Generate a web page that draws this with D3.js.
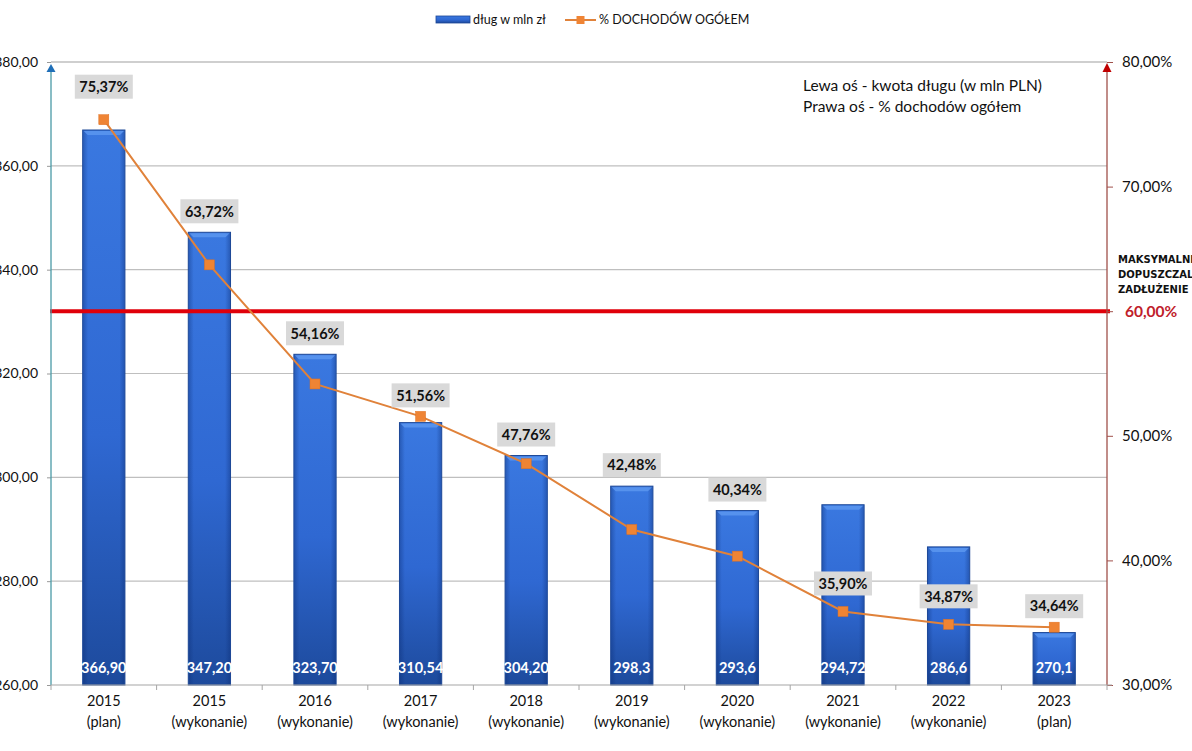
<!DOCTYPE html>
<html>
<head>
<meta charset="utf-8">
<script src="https://cdn.jsdelivr.net/npm/d3@7"></script>
<style>
  html, body { margin: 0; padding: 0; background: #fff; }
  svg { display: block; font-family: Lato, "Open Sans", sans-serif; }
</style>
</head>
<body>
<svg id="chart" width="1192" height="751"></svg>
<script>
// ---- data ----
const categories = [
  ["2015", "(plan)"],
  ["2015", "(wykonanie)"],
  ["2016", "(wykonanie)"],
  ["2017", "(wykonanie)"],
  ["2018", "(wykonanie)"],
  ["2019", "(wykonanie)"],
  ["2020", "(wykonanie)"],
  ["2021", "(wykonanie)"],
  ["2022", "(wykonanie)"],
  ["2023", "(plan)"]
];
const debtValues = [366.90, 347.20, 323.70, 310.54, 304.20, 298.3, 293.6, 294.72, 286.6, 270.1];
const debtLabels = ["366,90", "347,20", "323,70", "310,54", "304,20", "298,3", "293,6", "294,72", "286,6", "270,1"];
const pctValues = [75.37, 63.72, 54.16, 51.56, 47.76, 42.48, 40.34, 35.90, 34.87, 34.64];
const leftTicks = [260, 280, 300, 320, 340, 360, 380];
const rightTicks = [30, 40, 50, 60, 70, 80];
const limitValue = 60;
const legendNames = ["dług w mln zł", "% DOCHODÓW OGÓŁEM"];
const noteLines = ["Lewa oś - kwota długu (w mln PLN)", "Prawa oś - % dochodów ogółem"];
const limitLines = ["MAKSYMALNE", "DOPUSZCZALNE", "ZADŁUŻENIE"];

// ---- layout ----
const svg = d3.select("#chart");
const L = 51, R = 1107, T = 62, B = 685;
const fmt2 = v => d3.format(".2f")(v).replace(".", ",");

const x = d3.scaleBand().domain(d3.range(categories.length)).range([L, R])
  .paddingInner(0.6).paddingOuter(0.3);
const yL = d3.scaleLinear().domain([260, 380]).range([B, T]);
const yR = d3.scaleLinear().domain([30, 80]).range([B, T]);

const defs = svg.append("defs");
const g1 = defs.append("linearGradient").attr("id", "barV").attr("x1", 0).attr("y1", 0).attr("x2", 0).attr("y2", 1);
g1.append("stop").attr("offset", "0%").attr("stop-color", "#3a78e0");
g1.append("stop").attr("offset", "55%").attr("stop-color", "#2f68d2");
g1.append("stop").attr("offset", "100%").attr("stop-color", "#1d4a9c");
const g2 = defs.append("linearGradient").attr("id", "barH").attr("x1", 0).attr("y1", 0).attr("x2", 1).attr("y2", 0);
g2.append("stop").attr("offset", "0%").attr("stop-color", "#0a2a70").attr("stop-opacity", 0.35);
g2.append("stop").attr("offset", "12%").attr("stop-color", "#0a2a70").attr("stop-opacity", 0);
g2.append("stop").attr("offset", "88%").attr("stop-color", "#0a2a70").attr("stop-opacity", 0);
g2.append("stop").attr("offset", "100%").attr("stop-color", "#0a2a70").attr("stop-opacity", 0.35);

// gridlines
svg.append("g").selectAll("line").data(leftTicks.filter(t => t > 260)).join("line")
  .attr("x1", L).attr("x2", R).attr("y1", d => yL(d)).attr("y2", d => yL(d))
  .attr("stroke", "#bfbfbf").attr("stroke-width", 1.2);

// bars
const bars = svg.append("g");
bars.selectAll("rect.b").data(debtValues).join("rect").attr("class", "b")
  .attr("x", (d, i) => x(i)).attr("width", x.bandwidth())
  .attr("y", d => yL(d)).attr("height", d => B - yL(d))
  .attr("fill", "url(#barV)").attr("stroke", "#1c4796").attr("stroke-width", 1);
bars.selectAll("rect.s").data(debtValues).join("rect").attr("class", "s")
  .attr("x", (d, i) => x(i) + 0.5).attr("width", x.bandwidth() - 1)
  .attr("y", d => yL(d) + 0.5).attr("height", d => B - yL(d) - 1)
  .attr("fill", "url(#barH)");
bars.selectAll("path.bev").data(debtValues).join("path").attr("class", "bev")
  .attr("d", (d, i) => {
    const x0 = x(i), x1 = x(i) + x.bandwidth(), y0 = yL(d);
    return `M${x0 + 1},${y0 + 1}L${x1 - 1},${y0 + 1}L${x1 - 5},${y0 + 5}L${x0 + 5},${y0 + 5}Z`;
  })
  .attr("fill", "#5a95ee").attr("opacity", 0.9);
bars.selectAll("text").data(debtLabels).join("text")
  .attr("x", (d, i) => x(i) + x.bandwidth() / 2).attr("y", B - 12)
  .attr("text-anchor", "middle").attr("fill", "#fff").attr("font-weight", 700)
  .attr("font-size", 14.5).text(d => d);

// limit line
svg.append("line").attr("x1", L - 1).attr("x2", R + 3)
  .attr("y1", yR(limitValue)).attr("y2", yR(limitValue))
  .attr("stroke", "#e0000a").attr("stroke-width", 4);

// axes
const leftAxis = svg.append("g").attr("transform", `translate(${L},0)`)
  .call(d3.axisLeft(yL).tickValues(leftTicks).tickFormat(fmt2).tickSize(4).tickPadding(9));
leftAxis.select(".domain").remove();
leftAxis.selectAll(".tick line").attr("stroke", "#999");
leftAxis.selectAll("text").attr("font-size", 14).attr("fill", "#111").attr("font-family", "Lato, sans-serif");
svg.append("line").attr("x1", L).attr("x2", L).attr("y1", B).attr("y2", T + 6)
  .attr("stroke", "#4a9aa6").attr("stroke-width", 1.3);
svg.append("path").attr("d", `M${L},${T + 2}L${L - 4.5},${T + 10}L${L + 4.5},${T + 10}Z`).attr("fill", "#1f6fb8");

const rightAxis = svg.append("g").attr("transform", `translate(${R},0)`)
  .call(d3.axisRight(yR).tickValues(rightTicks).tickFormat(v => fmt2(v) + "%").tickSize(6).tickPadding(9));
rightAxis.select(".domain").remove();
rightAxis.selectAll(".tick line").attr("stroke", "#a0504a");
rightAxis.selectAll("text").attr("font-size", 15).attr("fill", "#111").attr("font-family", "Lato, sans-serif");
rightAxis.selectAll(".tick").filter(d => d === limitValue).select("text").remove();
svg.append("line").attr("x1", R).attr("x2", R).attr("y1", B).attr("y2", T + 6)
  .attr("stroke", "#a0504a").attr("stroke-width", 1.3);
svg.append("path").attr("d", `M${R},${T + 1}L${R - 4.5},${T + 10}L${R + 4.5},${T + 10}Z`).attr("fill", "#c00000");

// top gridline
svg.append("line").attr("x1", L).attr("x2", R).attr("y1", T).attr("y2", T)
  .attr("stroke", "#bfbfbf").attr("stroke-width", 1.2);

// bottom axis
svg.append("line").attr("x1", L).attr("x2", R + 5).attr("y1", B).attr("y2", B)
  .attr("stroke", "#a6a6a6").attr("stroke-width", 1.2);
svg.append("g").selectAll("line").data(d3.range(categories.length + 1)).join("line")
  .attr("x1", i => L + i * x.step()).attr("x2", i => L + i * x.step())
  .attr("y1", B).attr("y2", B + 5).attr("stroke", "#a6a6a6");
const catG = svg.append("g").selectAll("text").data(categories).join("text")
  .attr("text-anchor", "middle").attr("font-size", 14.5).attr("fill", "#111");
catG.append("tspan").attr("x", (d, i) => x(i) + x.bandwidth() / 2).attr("y", 706).text(d => d[0]);
catG.append("tspan").attr("x", (d, i) => x(i) + x.bandwidth() / 2).attr("y", 727).text(d => d[1]);

// percentage line
const cx = i => x(i) + x.bandwidth() / 2;
svg.append("path").datum(pctValues)
  .attr("d", d3.line().x((d, i) => cx(i)).y(d => yR(d)))
  .attr("fill", "none").attr("stroke", "#e0823a").attr("stroke-width", 2);
svg.append("g").selectAll("rect").data(pctValues).join("rect")
  .attr("x", (d, i) => cx(i) - 5).attr("y", d => yR(d) - 5)
  .attr("width", 10).attr("height", 10).attr("fill", "#ef8434").attr("stroke", "#e07020").attr("stroke-width", 0.5);

// percentage labels
const labelY = (d, i) => {
  const my = yR(d), by = yL(debtValues[i]);
  if (my - by > 60) return my - 28;
  if (by - my > 8) return my - 33;
  return Math.min(my, by) - 21;
};
const pl = svg.append("g").selectAll("g").data(pctValues).join("g")
  .attr("transform", (d, i) => `translate(${cx(i)},${labelY(d, i)})`);
pl.append("rect").attr("x", -29).attr("y", -12).attr("width", 58).attr("height", 24).attr("fill", "#d9d9d9");
pl.append("text").attr("text-anchor", "middle").attr("dy", "0.36em")
  .attr("font-size", 14.5).attr("font-weight", 700).attr("fill", "#111")
  .text(d => fmt2(d) + "%");

// limit annotation
svg.append("g").selectAll("text").data(limitLines).join("text")
  .attr("x", 1118).attr("y", (d, i) => 263 + i * 15)
  .attr("font-size", 10).attr("font-weight", 700).attr("fill", "#111")
  .attr("font-family", "DejaVu Sans, sans-serif").text(d => d);
svg.append("text").attr("x", 1125).attr("y", yR(limitValue)).attr("dy", "0.36em")
  .attr("font-size", 15.5).attr("font-weight", 700).attr("fill", "#c0202a").text(fmt2(limitValue) + "%");

// note
svg.append("g").selectAll("text").data(noteLines).join("text")
  .attr("x", 803).attr("y", (d, i) => 91 + i * 21)
  .attr("font-size", 15.5).attr("fill", "#111").text(d => d);

// legend
const lg = svg.append("g");
lg.append("rect").attr("x", 436).attr("y", 16).attr("width", 34).attr("height", 7)
  .attr("fill", "url(#barV)").attr("stroke", "#1c4796").attr("stroke-width", 0.8);
lg.append("text").attr("x", 473).attr("y", 24).attr("font-size", 12.5).attr("fill", "#111").text(legendNames[0]);
lg.append("line").attr("x1", 565).attr("x2", 596).attr("y1", 20).attr("y2", 20).attr("stroke", "#e0823a").attr("stroke-width", 2);
lg.append("rect").attr("x", 576.5).attr("y", 16).attr("width", 8).attr("height", 8).attr("fill", "#ef8434");
lg.append("text").attr("x", 599).attr("y", 24).attr("font-size", 12.5).attr("fill", "#111").text(legendNames[1]);
</script>
</body>
</html>
